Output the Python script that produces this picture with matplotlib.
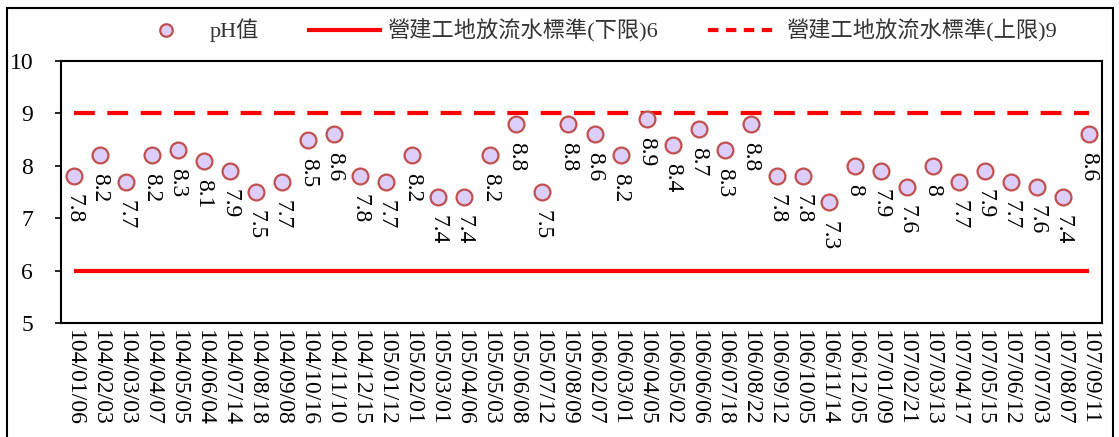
import matplotlib
matplotlib.use('Agg')
import matplotlib.pyplot as plt
from matplotlib.patches import Rectangle
from matplotlib.lines import Line2D

plt.rcParams['font.family'] = ['Liberation Serif', 'Noto Sans CJK TC']

dates = ['104/01/06', '104/02/03', '104/03/03', '104/04/07', '104/05/05', '104/06/04',
         '104/07/14', '104/08/18', '104/09/08', '104/10/16', '104/11/10', '104/12/15',
         '105/01/12', '105/02/01', '105/03/01', '105/04/06', '105/05/03', '105/06/08',
         '105/07/12', '105/08/09', '106/02/07', '106/03/01', '106/04/05', '106/05/02',
         '106/06/06', '106/07/18', '106/08/22', '106/09/12', '106/10/05', '106/11/14',
         '106/12/05', '107/01/09', '107/02/21', '107/03/13', '107/04/17', '107/05/15',
         '107/06/12', '107/07/03', '107/08/07', '107/09/11']
ph = [7.8, 8.2, 7.7, 8.2, 8.3, 8.1, 7.9, 7.5, 7.7, 8.5, 8.6, 7.8, 7.7, 8.2, 7.4, 7.4,
      8.2, 8.8, 7.5, 8.8, 8.6, 8.2, 8.9, 8.4, 8.7, 8.3, 8.8, 7.8, 7.8, 7.3, 8, 7.9,
      7.6, 8, 7.7, 7.9, 7.7, 7.6, 7.4, 8.6]
lower_limit = 6
upper_limit = 9

x = list(range(len(dates)))
face = '#DDCDFA'
edge = '#C0504D'

fig = plt.figure(figsize=(11.19, 4.37), dpi=100)
ax = fig.add_axes([0.0545, 0.2609, 0.9303, 0.5995])

ax.plot([x[0], x[-1]], [lower_limit, lower_limit], color='red', lw=3, solid_capstyle='butt')
ax.plot([x[0], x[-1]], [upper_limit, upper_limit], color='red', lw=3, dashes=(5, 3))
ax.scatter(x, ph, s=130, facecolor=face, edgecolor=edge, linewidths=1.6, zorder=3)

for xi, v in zip(x, ph):
    ax.annotate(f'{v:g}', (xi, v), xytext=(0, -13), textcoords='offset points',
                rotation=270, ha='center', va='top', fontsize=17)

ax.set_xlim(-0.5, len(dates) - 0.5)
ax.set_ylim(5, 10)
ax.set_yticks([5, 6, 7, 8, 9, 10])
ax.set_xticks(x)
ax.set_xticklabels(dates, rotation=270, fontsize=17)
ax.tick_params(axis='x', length=0, pad=5)
ax.tick_params(axis='y', length=4, width=1.2, pad=16, labelsize=17)
for s in ax.spines.values():
    s.set_linewidth(1.5)

handles = [
    Line2D([], [], ls='none', marker='o', markersize=9, markerfacecolor=face,
           markeredgecolor=edge, markeredgewidth=1.6),
    Line2D([], [], color='red', lw=3),
    Line2D([], [], color='red', lw=3, dashes=(2.5, 1.8)),
]
labels = ['pH值', '營建工地放流水標準(下限)6', '營建工地放流水標準(上限)9']
leg = fig.legend(handles, labels, loc='center', bbox_to_anchor=(0.531, 0.93), ncol=3,
                 frameon=False, fontsize=16, handlelength=3.2, columnspacing=2.25,
                 handletextpad=0.35)
for t in leg.get_texts():
    t.set_color('#333333')

fig.patches.append(Rectangle((7 / 1119, -0.1), 1106 / 1119, 1.1 - 8 / 437,
                             transform=fig.transFigure, fill=False, lw=1.5,
                             edgecolor='black'))

fig.savefig('out.png', dpi=100)
